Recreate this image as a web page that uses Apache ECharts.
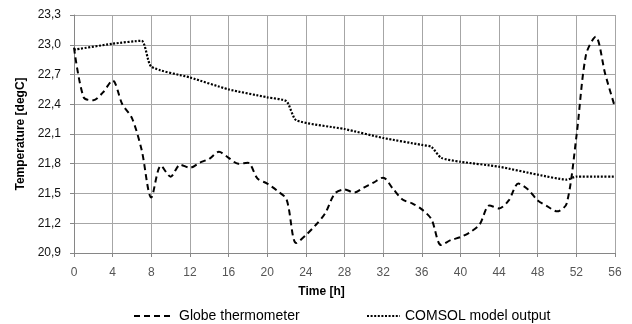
<!DOCTYPE html>
<html>
<head>
<meta charset="utf-8">
<script src="https://cdn.jsdelivr.net/npm/echarts@6/dist/echarts.min.js"></script>
<style>
  html, body { margin: 0; padding: 0; background: #fff; }
  #chart { width: 632px; height: 324px; }
</style>
</head>
<body>
<div id="chart"></div>
<script>
// time in hours, temperature in degC
var globeHours = [0, 1, 2, 3, 4, 5, 6, 7, 8, 9, 10, 11, 12, 13, 14, 15, 16, 17, 18, 19, 20,
  21, 22, 23, 24, 25, 26, 27, 28, 29, 30, 31, 32, 33, 34, 35, 36, 37, 38, 39, 40,
  41, 42, 43, 44, 45, 46, 47, 48, 49, 50, 51, 52, 53, 54, 55, 56];
var globeTemp = [22.97, 22.47, 22.44, 22.52, 22.64, 22.40, 22.26, 21.94, 21.46, 21.78, 21.67,
  21.79, 21.76, 21.81, 21.85, 21.92, 21.86, 21.80, 21.81, 21.65, 21.60,
  21.53, 21.44, 21.00, 21.08, 21.18, 21.30, 21.50, 21.54, 21.51, 21.56,
  21.61, 21.66, 21.55, 21.44, 21.40, 21.34, 21.24, 20.98, 21.03, 21.06,
  21.11, 21.19, 21.38, 21.35, 21.43, 21.60, 21.54, 21.43, 21.37, 21.32,
  21.40, 22.07, 22.90, 23.08, 22.70, 22.37];

var comsolHours = [0, 4, 7, 8, 12, 16, 20, 22, 23, 28, 32, 36, 37, 38, 40, 44, 48, 51, 52, 54, 56];
var comsolTemp = [22.95, 23.01, 23.04, 22.78, 22.67, 22.55, 22.47, 22.43, 22.24, 22.15, 22.06,
  21.99, 21.97, 21.86, 21.82, 21.77, 21.69, 21.64, 21.67, 21.67, 21.67];

var xTickLabels = ['0', '4', '8', '12', '16', '20', '24', '28', '32', '36', '40', '44', '48', '52', '56'];
var yTickLabels = ['20,9', '21,2', '21,5', '21,8', '22,1', '22,4', '22,7', '23,0', '23,3'];

var seriesNames = ['Globe thermometer', 'COMSOL model output'];

function pairs(xs, ys) {
  return xs.map(function (x, i) { return [x, ys[i]]; });
}

var font = "'Liberation Sans', Arial, sans-serif";
var chart = echarts.init(document.getElementById('chart'), null, { renderer: 'canvas' });

// legend shows only the line sample, no marker
var legendBase = {
  top: 309,
  padding: 0,
  itemHeight: 14,
  itemStyle: { opacity: 0 },
  textStyle: { fontFamily: font, fontSize: 14, color: '#000' }
};

chart.setOption({
  animation: false,
  backgroundColor: '#ffffff',
  textStyle: { fontFamily: font },
  grid: { left: 74, right: 17, top: 15, bottom: 71, containLabel: false },
  legend: [
    Object.assign({}, legendBase, { data: [seriesNames[0]], left: 133, itemWidth: 40 }),
    Object.assign({}, legendBase, { data: [seriesNames[1]], left: 366, itemWidth: 33 })
  ],
  xAxis: {
    type: 'value',
    min: 0, max: 56, interval: 4,
    name: 'Time [h]',
    nameLocation: 'middle',
    nameGap: 33,
    nameTextStyle: { fontFamily: font, fontSize: 12, fontWeight: 'bold', color: '#000', padding: [0, 46, 0, 0] },
    axisLine: { show: true, lineStyle: { color: '#868686', width: 1 } },
    axisTick: { show: true, inside: false, length: 4, lineStyle: { color: '#868686' } },
    axisLabel: {
      margin: 14, fontSize: 12, color: '#555',
      formatter: function (v) { return xTickLabels[Math.round(v / 4)]; }
    },
    splitLine: { show: true, lineStyle: { color: '#a6a6a6', width: 1 } }
  },
  yAxis: {
    type: 'value',
    min: 20.9, max: 23.3, interval: 0.3,
    name: 'Temperature [degC]',
    nameLocation: 'middle',
    nameGap: 46,
    nameTextStyle: { fontFamily: font, fontSize: 12, fontWeight: 'bold', color: '#000' },
    axisLine: { show: true, lineStyle: { color: '#868686', width: 1 } },
    axisTick: { show: true, inside: false, length: 4, lineStyle: { color: '#868686' } },
    axisLabel: {
      margin: 13, fontSize: 12, color: '#111',
      formatter: function (v) { return yTickLabels[Math.round((v - 20.9) / 0.3)]; }
    },
    splitLine: { show: true, lineStyle: { color: '#a6a6a6', width: 1 } }
  },
  series: [
    {
      name: seriesNames[0],
      type: 'line',
      data: pairs(globeHours, globeTemp),
      symbol: 'none',
      smooth: 0.3,
      lineStyle: { color: '#000', width: 2, type: [6, 4] },
      itemStyle: { color: '#000' }
    },
    {
      name: seriesNames[1],
      type: 'line',
      data: pairs(comsolHours, comsolTemp),
      symbol: 'none',
      smooth: 0.2,
      lineStyle: { color: '#000', width: 2.2, type: [2, 1.6] },
      itemStyle: { color: '#000' }
    }
  ]
});
</script>
</body>
</html>
